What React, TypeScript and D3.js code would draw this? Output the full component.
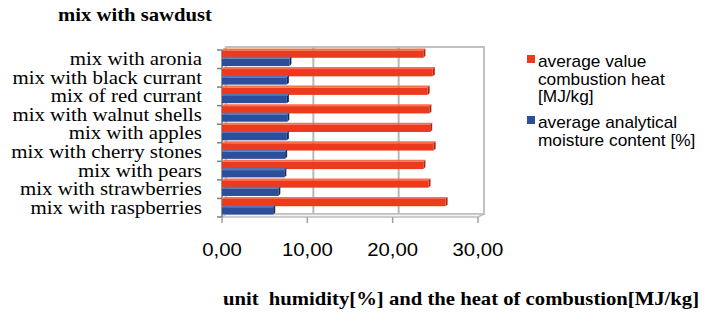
import React from "react";
import * as d3 from "d3";

const categories = [
  "mix with aronia",
  "mix with black currant",
  "mix of red currant",
  "mix with walnut shells",
  "mix with apples",
  "mix with cherry stones",
  "mix with pears",
  "mix with strawberries",
  "mix with raspberries",
];
const heatValues = [23.6, 24.7, 24.1, 24.3, 24.4, 24.8, 23.6, 24.2, 26.2];
const moistureValues = [7.9, 7.6, 7.6, 7.65, 7.6, 7.4, 7.3, 6.6, 6.0];
const seriesNames = ["average value combustion heat [MJ/kg]", "average analytical moisture content [%]"];
const legendLines = [
  ["average value", "combustion heat", "[MJ/kg]"],
  ["average analytical", "moisture content [%]"],
];
const xTicks = [0, 10, 20, 30];
const fmt = (v: number) => v.toFixed(2).replace(".", ",");

const W = 710;
const H = 323;

export default function App() {
  const x = d3.scaleLinear().domain([0, 30]).range([222, 478]);
  const y = d3.scaleBand<string>().domain(categories).range([50, 217]).paddingInner(0).paddingOuter(0);
  const sub = d3.scaleBand<number>().domain([0, 1]).range([0, y.bandwidth()]).paddingInner(0.12).paddingOuter(0.18);
  const dx = 4, dy = -3; // wall depth
  const d = 2; // bar depth

  const colors = [
    { front: "#ee3a1c", top: "#f7704f", end: "#a52812" },
    { front: "#2b4f9b", top: "#5573b5", end: "#17295a" },
  ];
  const series = [heatValues, moistureValues];
  const x0 = x(0);
  const yTop = y.range()[0];
  const yBot = y.range()[1];
  const x30 = x(30);
  const serif = "'Liberation Serif', 'Times New Roman', serif";
  const sans = "'Liberation Sans', Arial, sans-serif";

  return (
    <svg width={W} height={H} style={{ position: "absolute", left: 0, top: 0, background: "#fff" }}>
      <rect x={0} y={0} width={W} height={H} fill="#fff" />
      {/* title */}
      <text x={135} y={21} textAnchor="middle" fontFamily={serif} fontWeight="bold" fontSize={18}
        transform="translate(135,0) scale(1.15,1) translate(-135,0)">mix with sawdust</text>

      {/* back wall */}
      <rect x={x0 + dx} y={yTop + dy} width={x30 - x0 + 2} height={yBot - yTop} fill="#fff" stroke="#c0c0c0" strokeWidth={2} />
      {xTicks.slice(1, -1).map((t) => (
        <line key={t} x1={x(t) + dx + 2} x2={x(t) + dx + 2} y1={yTop + dy} y2={yBot + dy} stroke="#b8b8b8" strokeWidth={2} />
      ))}
      {/* floor */}
      <polygon points={`${x0},${yBot} ${x0 + dx},${yBot + dy} ${x30 + dx + 2},${yBot + dy} ${x30},${yBot}`} fill="#f4f4f4" stroke="#c0c0c0" strokeWidth={1.5} />
      {/* left wall */}
      <polygon points={`${x0},${yTop} ${x0 + dx},${yTop + dy} ${x0 + dx},${yBot + dy} ${x0},${yBot}`} fill="#eeeeee" stroke="#c0c0c0" strokeWidth={1} />
      {/* left axis */}
      <line x1={x0} x2={x0} y1={yTop} y2={yBot} stroke="#7f7f7f" strokeWidth={1.5} />
      {categories.concat([""]).map((c, i) => {
        const yy = yTop + i * y.bandwidth();
        return <line key={i} x1={x0 - 5} x2={x0} y1={yy} y2={yy} stroke="#7f7f7f" strokeWidth={1.5} />;
      })}
      {/* bottom axis ticks */}
      {xTicks.map((t) => (
        <line key={t} x1={x(t)} x2={x(t)} y1={yBot} y2={yBot + 6} stroke="#a0a0a0" strokeWidth={1.5} />
      ))}

      {/* bars */}
      {categories.map((c, i) =>
        series.map((vals, s) => {
          const by = (y(c) as number) + (sub(s) as number) - 1;
          const h = sub.bandwidth();
          const xv = x(vals[i]);
          const col = colors[s];
          return (
            <g key={c + s}>
              <polygon points={`${x0},${by} ${x0 + d},${by - d} ${xv + d},${by - d} ${xv},${by}`} fill={col.top} />
              <polygon points={`${xv},${by} ${xv + d},${by - d} ${xv + d},${by + h - d} ${xv},${by + h}`} fill={col.end} />
              <rect x={x0} y={by} width={xv - x0} height={h} fill={col.front} />
            </g>
          );
        })
      )}

      {/* category labels */}
      <g transform="translate(202,0) scale(1.16,1) translate(-202,0)">
        {categories.map((c) => (
          <text key={c} x={202} y={(y(c) as number) + y.bandwidth() / 2 + 6} textAnchor="end" fontFamily={serif} fontSize={18} fill="#000">
            {c}
          </text>
        ))}
      </g>

      {/* x tick labels */}
      {xTicks.map((t) => (
        <text key={t} x={x(t)} y={256} textAnchor="middle" fontFamily={sans} fontSize={18} fill="#000"
          transform={`translate(${x(t)},0) scale(1.13,1) translate(${-x(t)},0)`}>
          {fmt(t)}
        </text>
      ))}

      {/* x axis title */}
      <text x={461} y={305} textAnchor="middle" fontFamily={serif} fontWeight="bold" fontSize={18}
        transform="translate(461,0) scale(1.15,1) translate(-461,0)">
        unit{"\u00a0 "}humidity[%] and the heat of combustion[MJ/kg]
      </text>

      {/* legend */}
      {legendLines.map((lines, s) => {
        const baseY = s === 0 ? 67 : 128;
        return (
          <g key={s}>
            <rect x={527} y={baseY - 12} width={8} height={8} fill={colors[s].front} />
            <title>{seriesNames[s]}</title>
            {lines.map((l, k) => (
              <text key={k} x={538} y={baseY + k * 17.7} fontFamily={sans} fontSize={16} fill="#000"
                transform="translate(538,0) scale(1.08,1) translate(-538,0)">
                {l}
              </text>
            ))}
          </g>
        );
      })}
    </svg>
  );
}
